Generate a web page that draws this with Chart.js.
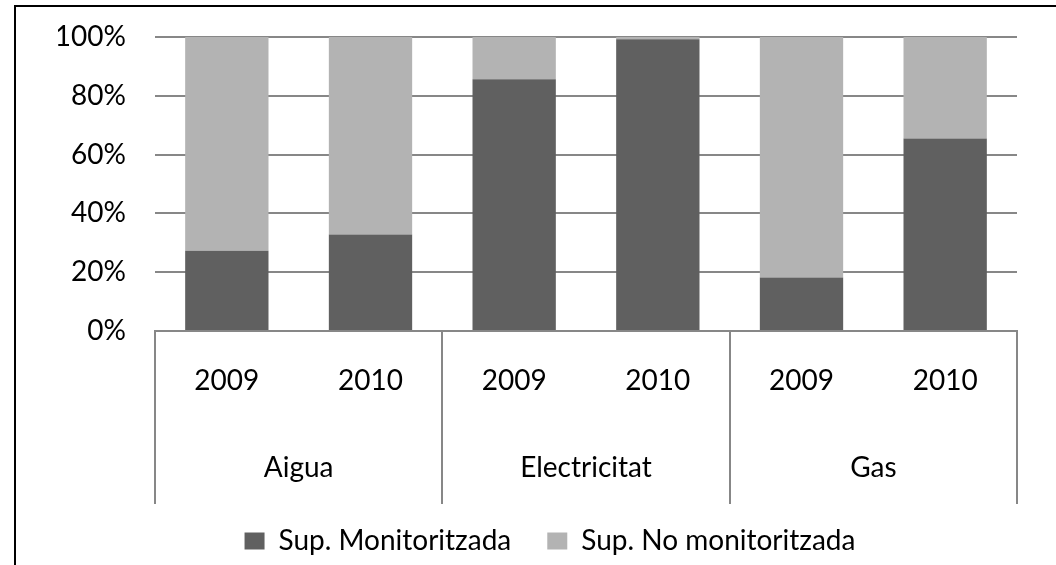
<!DOCTYPE html>
<html>
<head>
<meta charset="utf-8">
<script src="https://cdn.jsdelivr.net/npm/chart.js@4/dist/chart.umd.min.js"></script>
<style>
  html, body { margin: 0; padding: 0; background: #fff; overflow: hidden; width: 1056px; height: 565px; }
  #frame { position: absolute; left: 14px; top: 5px; width: 1100px; height: 700px; border: 2px solid #000; box-sizing: border-box; }
  #wrap { position: absolute; left: 0; top: 0; width: 1056px; height: 565px; }
</style>
</head>
<body>
<div id="frame"></div>
<div id="wrap"><canvas id="c" width="1056" height="565"></canvas></div>
<script>
const groups = ['Aigua', 'Electricitat', 'Gas'];
const yearLabels = ['2009', '2010', '2009', '2010', '2009', '2010'];
const seriesNames = ['Sup. Monitoritzada', 'Sup. No monitoritzada'];
const monitored = [27.3, 32.8, 85.6, 99.2, 18.2, 65.5];
const notMonitored = [72.7, 67.2, 14.4, 0.8, 81.8, 34.5];
const yTicks = [0, 20, 40, 60, 80, 100];

const FONT = 'Lato, "Open Sans", sans-serif';
const GRID = '#878787';
const DARK = '#606060';
const LIGHT = '#b3b3b3';
const NONE = 'rgba(0,0,0,0)';

new Chart(document.getElementById('c'), {
  type: 'bar',
  data: {
    labels: yearLabels,
    datasets: [
      { label: seriesNames[0], data: monitored, backgroundColor: DARK, xAxisID: 'x', yAxisID: 'y' },
      { label: seriesNames[1], data: notMonitored, backgroundColor: LIGHT, xAxisID: 'x', yAxisID: 'y' }
    ]
  },
  options: {
    responsive: false,
    animation: false,
    devicePixelRatio: 1,
    datasets: { bar: { categoryPercentage: 1, barPercentage: 0.58 } },
    layout: { padding: { left: 58, right: 14, top: 37, bottom: 0 } },
    plugins: {
      tooltip: { enabled: false },
      legend: {
        position: 'bottom',
        labels: {
          color: '#000',
          font: { family: FONT, size: 28 },
          boxWidth: 20, boxHeight: 17,
          padding: 36
        }
      }
    },
    scales: {
      y: {
        stacked: true,
        min: 0, max: 100,
        afterBuildTicks: (s) => { s.ticks = yTicks.map(v => ({ value: v })); },
        afterFit: (s) => { s.width = 97; },
        ticks: { color: '#000', font: { family: FONT, size: 28 }, padding: 0, callback: (v) => v + '%' },
        grid: { color: GRID, lineWidth: 2, drawTicks: true, tickLength: 29, tickColor: NONE },
        border: { display: false }
      },
      y2: {
        type: 'linear',
        position: 'right',
        display: true,
        afterFit: (s) => { s.width = 25; },
        ticks: { display: false },
        grid: { display: false, drawTicks: false },
        border: { display: false }
      },
      x: {
        stacked: true,
        position: 'bottom',
        weight: 0,
        afterFit: (s) => { s.height = 80; },
        ticks: { color: '#000', font: { family: FONT, size: 28 }, padding: -140, maxRotation: 0, autoSkip: false },
        grid: {
          offset: true,
          drawOnChartArea: false,
          drawTicks: true,
          tickLength: 173,
          lineWidth: 2,
          color: (ctx) => (ctx.index === undefined || ctx.index % 2 === 0) ? GRID : NONE
        },
        border: { display: true, color: GRID, width: 2 }
      },
      x2: {
        type: 'category',
        labels: groups,
        position: 'bottom',
        weight: 1,
        offset: true,
        afterFit: (s) => { s.height = 80; },
        ticks: { color: '#000', font: { family: FONT, size: 28 }, padding: 40, maxRotation: 0, autoSkip: false },
        grid: { display: false, drawTicks: false },
        border: { display: false }
      }
    }
  }
});
</script>
</body>
</html>
